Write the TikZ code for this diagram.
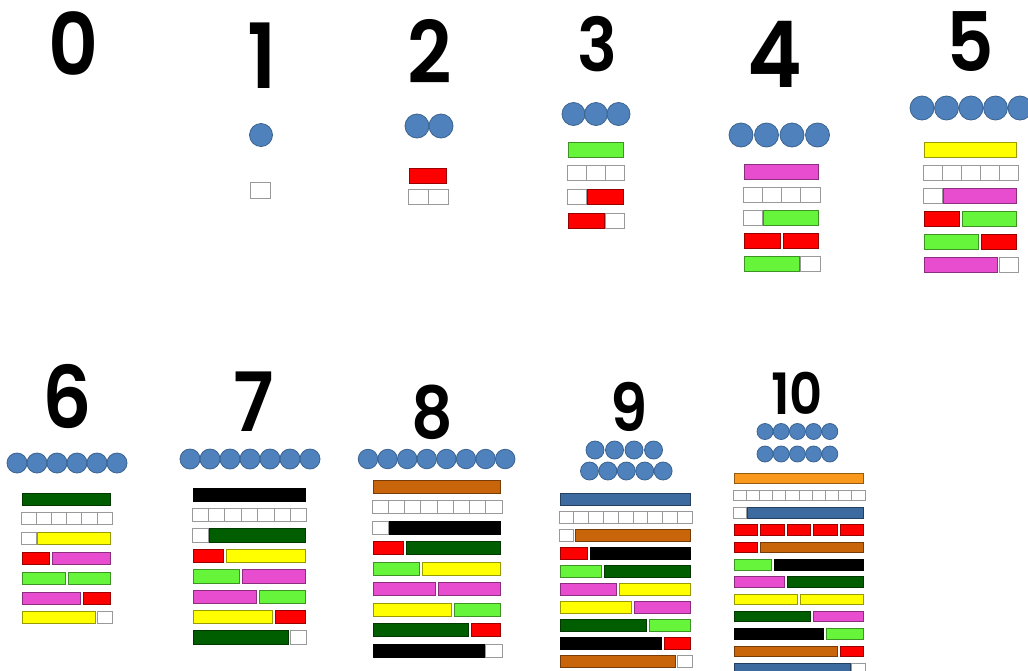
\documentclass[tikz,border=0pt]{standalone}
\usepackage{fontspec}
\newfontfamily\numfont{Poppins SemiBold}
\definecolor{dotblue}{HTML}{4F81BD}
\definecolor{dotedge}{HTML}{3A6390}
\definecolor{wt}{HTML}{FFFFFF}
\definecolor{rd}{HTML}{FF0000}
\definecolor{lg}{HTML}{66F53A}
\definecolor{mg}{HTML}{E84DD0}
\definecolor{yw}{HTML}{FFFF00}
\definecolor{dg}{HTML}{005E00}
\definecolor{bk}{HTML}{000000}
\definecolor{bn}{HTML}{C8650B}
\definecolor{bl}{HTML}{3E6B9F}
\definecolor{orng}{HTML}{F8991D}
\def\whitename{wt}
\newcommand\rodgroup[6]{%
  \foreach \row [count=\r from 0] in {#6}{%
    \xdef\rodx{#1}%
    \pgfmathsetmacro\rody{#2+\r*#5}%
    \foreach \len/\col in \row{%
      \ifx\col\whitename
        \foreach \k in {1,...,\len}
          \draw[rod=wt] (\rodx+\k*#3-#3,\rody) rectangle ++(#3,#4);
      \else
        \draw[rod=\col] (\rodx+1.5,\rody) rectangle (\rodx+\len*#3-1.5,\rody+#4);
      \fi
      \pgfmathsetmacro\nx{\rodx+\len*#3}\xdef\rodx{\nx}%
    }}}
\newcommand\dotrow[5]{%
  \foreach \i in {1,...,#3}
    \draw[dot] ({#1+(\i-1)*#4},#2) circle[radius=#5/2];}
\begin{document}
\begin{tikzpicture}[x=1pt, y=-1pt,
  num/.style={inner sep=0pt, xscale=0.9, font=\numfont\fontsize{#1pt}{#1pt}\selectfont},
  rod/.style={fill=#1, draw=#1!60!black, line width=1pt},
  dot/.style={fill=dotblue, draw=dotedge, line width=0.8pt}]
\fill[white] (0,0) rectangle (1028,670);
\useasboundingbox (0,0) rectangle (1028,670);
\node[num=86] (n0) at (73,44) {0};
\node[num=90] (n1) at (262,56) {1};
\node[num=86] (n2) at (430,51) {2};
\node[num=74] (n3) at (597,44) {3};
\node[num=92] (n4) at (775,54) {4};
\node[num=82] (n5) at (970,42) {5};
\node[num=86] (n6) at (67,396) {6};
\node[num=82] (n7) at (254,402) {7};
\node[num=72] (n8) at (432,412) {8};
\node[num=66] (n9) at (629,407) {9};
\node[num=57] (n10) at (797,393) {10};
\dotrow{261}{135}{1}{0}{23}
\dotrow{417}{126}{2}{24}{24}
\dotrow{573.5}{114}{3}{22.5}{23}
\dotrow{741}{135}{4}{25.5}{24}
\dotrow{922}{108}{5}{24.5}{24}
\dotrow{17}{463}{6}{20}{20}
\dotrow{190}{459}{7}{20}{20}
\dotrow{368}{459}{8}{19.6}{19.5}
\dotrow{595}{450}{4}{19.5}{18}
\dotrow{589.5}{471}{5}{18.4}{18}
\dotrow{765}{431.5}{5}{16.2}{16}
\dotrow{765}{454}{5}{16.2}{16}
\rodgroup{250}{182}{20}{16}{0}{{1/wt}}
\rodgroup{408}{168}{20}{15}{21}{{2/rd},{2/wt}}
\rodgroup{567}{142}{19.3}{15}{23.7}{{3/lg},{3/wt},{1/wt,2/rd},{2/rd,1/wt}}
\rodgroup{743}{164}{19.3}{15}{23}{{4/mg},{4/wt},{1/wt,3/lg},{2/rd,2/rd},{3/lg,1/wt}}
\rodgroup{923}{142}{19}{15}{23}{{5/yw},{5/wt},{1/wt,4/mg},{2/rd,3/lg},{3/lg,2/rd},{4/mg,1/wt}}
\rodgroup{21}{493}{15.2}{12}{19.8}{{6/dg},{6/wt},{1/wt,5/yw},{2/rd,4/mg},{3/lg,3/lg},{4/mg,2/rd},{5/yw,1/wt}}
\rodgroup{192}{488}{16.4}{13.5}{20.4}{{7/bk},{7/wt},{1/wt,6/dg},{2/rd,5/yw},{3/lg,4/mg},{4/mg,3/lg},{5/yw,2/rd},{6/dg,1/wt}}
\rodgroup{372}{480}{16.25}{13}{20.5}{{8/bn},{8/wt},{1/wt,7/bk},{2/rd,6/dg},{3/lg,5/yw},{4/mg,4/mg},{5/yw,3/lg},{6/dg,2/rd},{7/bk,1/wt}}
\rodgroup{559}{493}{14.8}{12}{18.1}{{9/bl},{9/wt},{1/wt,8/bn},{2/rd,7/bk},{3/lg,6/dg},{4/mg,5/yw},{5/yw,4/mg},{6/dg,3/lg},{7/bk,2/rd},{8/bn,1/wt}}
\rodgroup{733}{473}{13.2}{10.5}{17.3}{{10/orng},{10/wt},{1/wt,9/bl},{2/rd,2/rd,2/rd,2/rd,2/rd},{2/rd,8/bn},{3/lg,7/bk},{4/mg,6/dg},{5/yw,5/yw},{6/dg,4/mg},{7/bk,3/lg},{8/bn,2/rd},{9/bl,1/wt}}
\end{tikzpicture}
\end{document}
